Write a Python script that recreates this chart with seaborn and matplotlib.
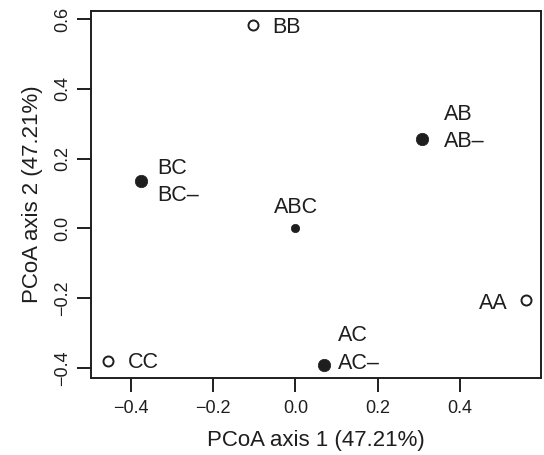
import matplotlib
matplotlib.use("Agg")
import matplotlib.pyplot as plt
import seaborn as sns
import pandas as pd

# PCoA coordinates
samples = ["AA", "BB", "CC", "AB", "AC", "BC", "ABC"]
axis1 = [0.560, -0.102, -0.456, 0.307, 0.070, -0.375, 0.000]
axis2 = [-0.204, 0.584, -0.379, 0.255, -0.393, 0.137, 0.000]
kind = ["parent", "parent", "parent", "hybrid", "hybrid", "hybrid", "centre"]
upper_label = ["", "", "", "AB", "AC", "BC", "ABC"]
side_label = ["AA", "BB", "CC", "AB\u2013", "AC\u2013", "BC\u2013", ""]

x_ticks = [-0.4, -0.2, 0.0, 0.2, 0.4]
y_ticks = [-0.4, -0.2, 0.0, 0.2, 0.4, 0.6]

df = pd.DataFrame({"sample": samples, "x": axis1, "y": axis2, "kind": kind,
                   "upper": upper_label, "side": side_label})

sns.set_style("ticks")
plt.rcParams["font.family"] = ["Liberation Sans", "DejaVu Sans"]
ink = "#1e1e1e"

fig = plt.figure(figsize=(5.44, 4.55), dpi=100)
ax = fig.add_axes([91 / 544, 1 - 378 / 455, 450 / 544, 367 / 455])

sns.scatterplot(data=df[df.kind == "parent"], x="x", y="y", ax=ax, s=52,
                facecolor="white", edgecolor=ink, linewidth=1.4, zorder=3)
sns.scatterplot(data=df[df.kind == "hybrid"], x="x", y="y", ax=ax, s=80,
                color=ink, edgecolor=ink, linewidth=0.5, zorder=3)
sns.scatterplot(data=df[df.kind == "centre"], x="x", y="y", ax=ax, s=36,
                color=ink, edgecolor=ink, linewidth=0.5, zorder=3)

# label offsets in pixels (dx, dy of cap centre, dy down positive), alignment
side_pos = {"AA": (-18, 1.5, "right"), "BB": (18.6, 1.0, "left"),
            "CC": (19.8, 0.0, "left"), "AB\u2013": (22.6, 0.0, "left"),
            "AC\u2013": (13.9, -4.0, "left"), "BC\u2013": (16.3, 13.0, "left")}
upper_pos = {"AB": (22.6, -27.5, "left"), "AC": (13.9, -32.5, "left"),
             "BC": (16.3, -14.5, "left"), "ABC": (1.0, -23.0, "center")}

fs = 15.5
cap_half = 0.716 * fs / 0.72 / 2
px = 0.72
for _, r in df.iterrows():
    for txt, pos in ((r["side"], side_pos), (r["upper"], upper_pos)):
        if not txt:
            continue
        dx, dy, ha = pos[txt]
        ax.annotate(txt, (r["x"], r["y"]), xytext=(dx * px, -(dy + cap_half) * px),
                    textcoords="offset points", ha=ha, va="baseline",
                    fontsize=fs, color=ink)

ax.set_xlim(-0.497, 0.597)
ax.set_ylim(-0.429, 0.623)
ax.set_xticks(x_ticks)
ax.set_yticks(y_ticks)
ax.set_xticklabels([f"{t:.1f}".replace("-", "\u2212") for t in x_ticks])
ax.set_yticklabels([f"{t:.1f}".replace("-", "\u2212") for t in y_ticks],
                   rotation=90, va="center")
for sp in ax.spines.values():
    sp.set_visible(True)
    sp.set_linewidth(1.4)
    sp.set_color(ink)
ax.tick_params(axis="both", length=10, width=1.4, color=ink, labelsize=13,
               labelcolor=ink)
ax.tick_params(axis="x", pad=6)
ax.tick_params(axis="y", pad=4)

ax.set_xlabel("PCoA axis 1 (47.21%)", fontsize=16, color=ink, labelpad=9)
ax.set_ylabel("PCoA axis 2 (47.21%)", fontsize=16, color=ink, labelpad=8)

fig.savefig("out.png", dpi=100)
